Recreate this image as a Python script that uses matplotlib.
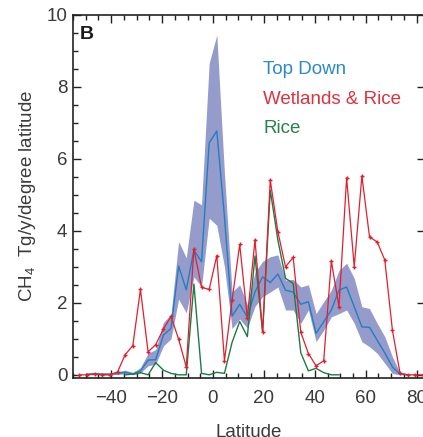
import matplotlib
matplotlib.use("Agg")
import matplotlib.pyplot as plt
from matplotlib.ticker import MultipleLocator

plt.rcParams['font.family'] = ['Liberation Sans', 'DejaVu Sans']
plt.rcParams['mathtext.fontset'] = 'custom'
plt.rcParams['mathtext.rm'] = 'Liberation Sans'

# ---- data ----
lat_td = [-49.5, -46.5, -43.5, -40.5, -37.5, -34.5, -31.5, -28.5, -25.5, -22.5,
          -19.5, -16.5, -13.5, -10.5, -7.5, -4.5, -1.5, 1.5, 4.5, 7.5,
          10.5, 13.5, 16.5, 19.5, 22.5, 25.5, 28.5, 31.5, 34.5, 37.5,
          40.5, 43.5, 46.5, 49.5, 52.5, 55.5, 58.5, 61.5, 64.5, 67.5,
          70.5, 73.5, 76.5]
top_down = [0.02, 0.02, 0.02, 0.02, 0.04, 0.07, 0.02, 0.11, 0.41, 0.42,
            1.1, 1.29, 3.02, 2.36, 3.46, 3.14, 6.44, 6.77, 4.4, 1.63,
            1.96, 1.6, 2.3, 2.72, 2.56, 2.8, 2.35, 2.3, 1.96, 2.03,
            1.15, 1.47, 1.8, 2.35, 2.44, 1.89, 1.33, 1.32, 0.96, 0.61,
            0.22, 0.02, 0.0]
td_low = [0.0, 0.0, 0.0, 0.0, 0.01, 0.03, 0.0, 0.05, 0.25, 0.3,
          0.8, 1.0, 2.1, 1.72, 2.72, 2.45, 4.35, 4.15, 3.0, 1.28,
          1.55, 1.3, 1.9, 2.17, 2.3, 2.44, 1.8, 1.8, 1.43, 1.8,
          0.92, 1.24, 1.61, 1.7, 1.8, 1.43, 0.92, 0.78, 0.6, 0.32,
          0.04, 0.0, 0.0]
td_high = [0.04, 0.05, 0.05, 0.05, 0.09, 0.13, 0.07, 0.2, 0.6, 0.7,
           1.45, 1.68, 3.7, 3.25, 4.85, 4.72, 8.65, 9.44, 5.6, 2.3,
           2.5, 1.95, 2.85, 3.15, 3.28, 3.33, 2.63, 2.65, 2.44, 2.5,
           1.7, 2.03, 2.35, 2.9, 3.1, 2.68, 1.89, 1.84, 1.43, 1.06,
           0.5, 0.05, 0.0]

lat_wr = [-52.5, -49.5, -46.5, -43.5, -40.5, -37.5, -34.5, -31.5, -28.5, -25.5,
          -22.5, -19.5, -16.5, -13.5, -10.5, -7.5, -4.5, -1.5, 1.5, 4.5,
          7.5, 10.5, 13.5, 16.5, 19.5, 22.5, 25.5, 28.5, 31.5, 34.5,
          37.5, 40.5, 43.5, 46.5, 49.5, 52.5, 55.5, 58.5, 61.5, 64.5,
          67.5, 70.5, 73.5, 76.5, 79.5, 82.5]
wetlands_rice = [0.0, 0.0, 0.03, 0.0, 0.0, 0.08, 0.56, 0.81, 2.37, 0.64,
                 0.84, 1.27, 1.62, 0.99, 0.22, 3.49, 2.43, 2.37, 3.31, 0.39,
                 2.07, 3.62, 1.58, 3.75, 1.18, 5.41, 3.97, 3.0, 3.26, 1.18,
                 0.59, 0.25, 0.39, 3.16, 1.89, 5.47, 3.0, 5.52, 3.83, 3.69,
                 3.19, 1.24, 0.04, 0.0, 0.0, 0.0]

lat_rice = [-34.5, -31.5, -28.5, -25.5, -22.5, -19.5, -16.5, -13.5, -10.5, -7.5,
            -4.5, -1.5, 1.5, 4.5, 7.5, 10.5, 13.5, 16.5, 19.5, 22.5,
            25.5, 28.5, 31.5, 34.5, 37.5, 40.5, 43.5, 46.5, 49.5]
rice = [0.0, 0.02, 0.06, 0.0, 0.34, 0.13, 0.04, 0.0, 0.0, 2.52,
        0.04, 0.0, 0.07, 0.04, 0.9, 1.48, 1.06, 3.3, 1.18, 5.13,
        3.74, 2.68, 2.54, 0.61, 0.11, 0.18, 0.06, 0.0, 0.0]

labels = ["Top Down", "Wetlands & Rice", "Rice"]

# ---- style ----
band_c = '#8f96c9'
blue_c = '#1f80c0'
red_c = '#e0202e'
green_c = '#1e7a45'
tick_c = '#3a3a3a'
leg_cols = ['#2a8ac8', '#e0303e', '#2a8050']

fig = plt.figure(figsize=(4.23, 4.37), dpi=100)
ax = fig.add_axes([73/423, (437-377.7)/437, (425-73)/423, (377.7-14.7)/437])

ax.fill_between(lat_td, td_low, td_high, color=band_c, lw=0, alpha=0.95)
ax.plot(lat_td, top_down, color=blue_c, lw=1.0)
ax.plot(lat_rice, rice, color=green_c, lw=1.0)
ax.plot(lat_wr, wetlands_rice, color=red_c, lw=0.9, marker='+', ms=3.5, mew=1.0)

ax.set_xlim(-55, 83.3)
ax.set_ylim(-0.08, 10)

ax.xaxis.set_major_locator(MultipleLocator(20))
ax.xaxis.set_minor_locator(MultipleLocator(5))
ax.yaxis.set_major_locator(MultipleLocator(2))
ax.yaxis.set_minor_locator(MultipleLocator(0.5))

ax.tick_params(axis='both', which='both', direction='in', colors='#222222',
               labelcolor=tick_c, labelsize=13.5, width=1.0)
ax.tick_params(axis='x', which='major', length=6, top=True, pad=9)
ax.tick_params(axis='x', which='minor', length=3.5, top=True)
ax.tick_params(axis='y', which='major', length=6, right=True, pad=4)
ax.tick_params(axis='y', which='minor', length=3.5, right=False)

for s in ax.spines.values():
    s.set_linewidth(1.2)
    s.set_color('#222222')

ax.set_xlabel("Latitude", fontsize=13.5, color=tick_c, labelpad=12)
ax.set_ylabel("CH$_{4}$  Tg/y/degree latitude", fontsize=13.5, color=tick_c, labelpad=6)

ax.text(0.02, 0.968, "B", transform=ax.transAxes, fontsize=14, fontweight='bold',
        color='#1a1a1a', ha='left', va='top')

for i, (t, c) in enumerate(zip(labels, leg_cols)):
    fig.text(263/423, 1 - (70 + i * 29.2)/437, t, color=c, fontsize=13.5,
             ha='left', va='center')

fig.savefig("out.png", dpi=100)
